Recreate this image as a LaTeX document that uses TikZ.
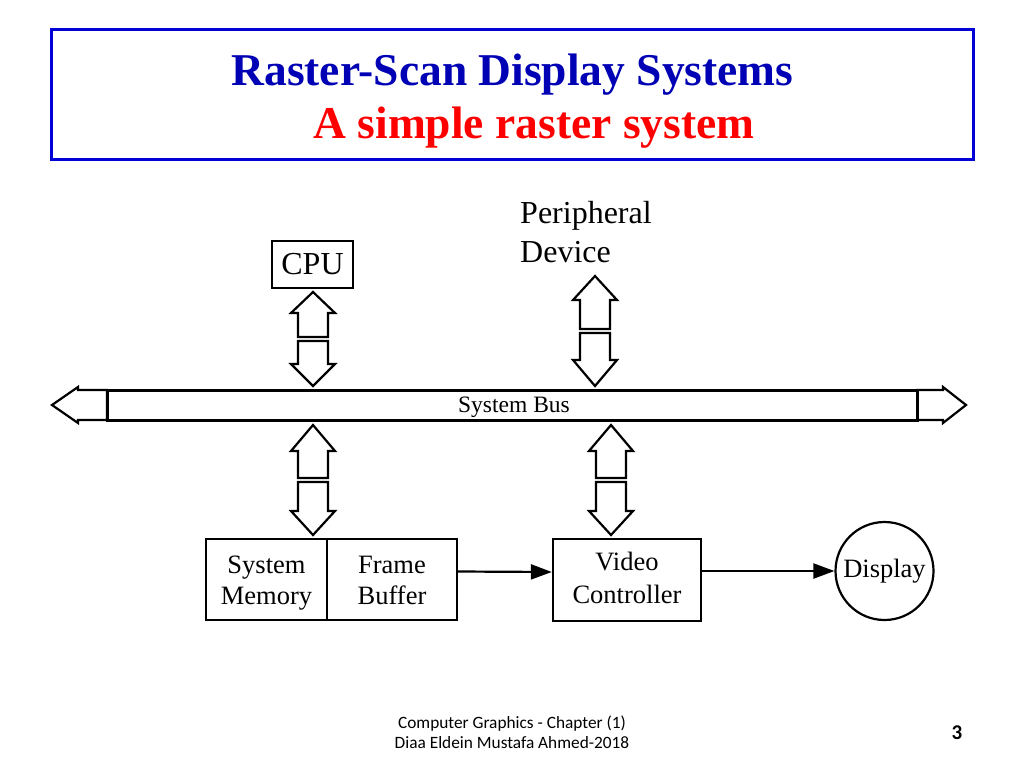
\documentclass[tikz,border=0pt]{standalone}
\usepackage{fontspec}
\setmainfont{Liberation Serif}
\newfontfamily\footfont{Carlito}
\usetikzlibrary{arrows.meta}
\definecolor{titleblue}{RGB}{0,0,180}
\definecolor{borderblue}{RGB}{0,0,215}
\definecolor{titlered}{RGB}{255,0,0}
\newcommand\VArr[4]{% cx, tip y, head-base y, shaft-end y
  \draw[hollow] (#1,#2) -- ({#1+22},#3) -- ({#1+15},#3) -- ({#1+15},#4) -- ({#1-15},#4) -- ({#1-15},#3) -- ({#1-22},#3) -- cycle;}
\newcommand\HArr[4]{% cy, tip x, head-base x, shaft-end x
  \draw[hollow] (#2,#1) -- (#3,{#1-18}) -- (#3,{#1-15}) -- (#4,{#1-15}) -- (#4,{#1+15}) -- (#3,{#1+15}) -- (#3,{#1+18}) -- cycle;}
\newcommand\memtop{\rule[-6pt]{0pt}{31pt}}
\newcommand\membot{\rule[-6pt]{0pt}{24pt}}
\newcommand\vctop{\rule[-6pt]{0pt}{26pt}}
\newcommand\vcbot{\rule[-6pt]{0pt}{24pt}}
\begin{document}
\begin{tikzpicture}[x=1pt,y=-1pt,
  box/.style={draw, line width=2.4pt, rectangle, inner sep=0pt, align=center,
    font=\fontsize{26.5}{30.5}\selectfont},
  hollow/.style={draw, line width=2.2pt, line join=miter, fill=white},
  conn/.style={line width=2.2pt, -{Triangle[length=21pt,width=15pt]}},
  titletxt/.style={font=\bfseries\fontsize{45.5}{54}\selectfont, anchor=base, inner sep=0pt},
]
\useasboundingbox (0,0) rectangle (1024,768);

% title
\node[draw=borderblue, line width=3pt, minimum width=922pt, minimum height=129pt, inner sep=0pt] (titlebox) at (512,94.5) {};
\node[titletxt, text=titleblue] (t1) at (512.5,85) {Raster-Scan Display Systems};
\node[titletxt, text=titlered] (t2) at (534,138.5) {A simple raster system};

% CPU and peripheral
\node[draw, line width=2.4pt, minimum width=81pt, minimum height=47pt, inner sep=0pt,
  font=\fontsize{32}{38}\selectfont] (cpu) at (312.5,264.5) {CPU};
\node[anchor=north west, inner sep=0pt, align=left, font=\fontsize{32}{38.5}\selectfont] (periph) at (520,201.5) {Peripheral\\Device};

% vertical hollow arrows
\VArr{313}{292}{313}{337}
\VArr{313}{386}{364}{341}
\VArr{595}{276}{300}{329}
\VArr{595}{386}{360}{333}
\VArr{313}{425}{451}{478}
\VArr{313}{535}{511}{482}
\VArr{611}{425}{451}{478}
\VArr{611}{535}{511}{482}

% bus
\HArr{405}{52}{78}{107}
\HArr{405}{966}{943}{917}
\node[draw, line width=3pt, fill=white, minimum width=810pt, minimum height=30pt, inner sep=0pt] (bus) at (512,405) {};
\node[anchor=base, inner sep=0pt, font=\fontsize{23.5}{28}\selectfont] (buslabel) at (514,412) {System Bus};

% lower boxes
\node[box, minimum width=121pt, minimum height=81pt] (sysmem) at (266.5,579.5) {System\memtop\\Memory\membot};
\node[box, minimum width=130pt, minimum height=81pt] (fb) at (392,579.5) {Frame\memtop\\Buffer\membot};
\node[box, minimum width=148pt, minimum height=82pt, font=\fontsize{26.5}{33}\selectfont] (vc) at (627,580) {Video\vctop\\Controller\vcbot};
\node[draw, circle, line width=2.2pt, minimum size=98pt, inner sep=0pt,
  font=\fontsize{26.5}{30}\selectfont] (disp) at (884.5,571) {Display};

\draw[conn] ([yshift=8pt]fb.east) -- ([yshift=8pt]vc.west);
\draw[conn] ([yshift=9pt]vc.east) -- (disp.west);

% footer
\node[align=center, inner sep=0pt, font=\footfont\fontsize{17.3}{20.5}\selectfont] (foot) at (512,732) {Computer Graphics - Chapter (1)\\Diaa Eldein Mustafa Ahmed-2018};
\node[inner sep=0pt, font=\footfont\bfseries\fontsize{21}{22}\selectfont] (pageno) at (957,733) {3};
\end{tikzpicture}
\end{document}
